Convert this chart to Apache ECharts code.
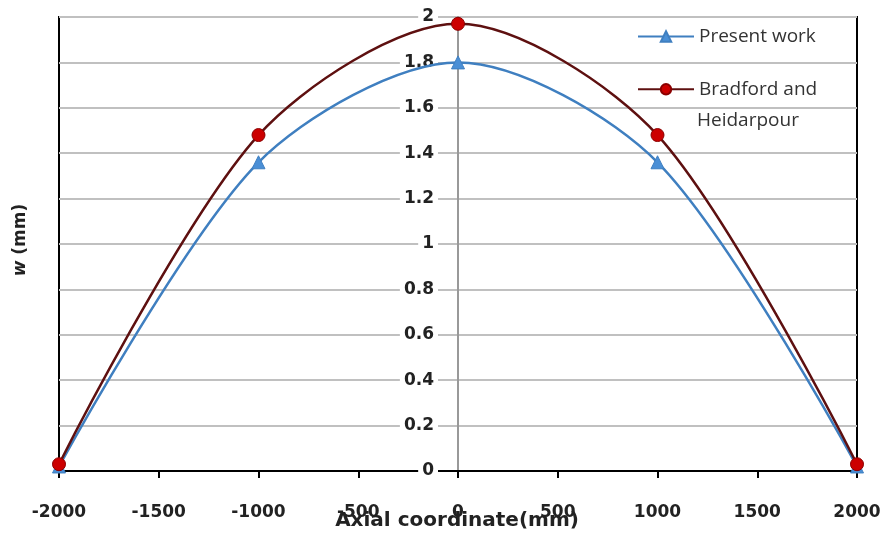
<!DOCTYPE html>
<html>
 <head>
  <title>Deflection along axial coordinate</title>
  <script src="https://cdn.jsdelivr.net/npm/echarts@6/dist/echarts.min.js"></script>
  <style>
    html, body, #container {
    width: 100%;
    height: 100%;
    margin: 0;
    padding: 0;
    background: #fff;
    }
  </style>
 </head>
  <body>
    <div id="container"></div>
    <script>
      // values
      var axialPos = [-2000, -1000, 0, 1000, 2000];
      var presentWork = [0.02, 1.36, 1.80, 1.36, 0.02];
      var bradford = [0.03, 1.48, 1.97, 1.48, 0.03];

      function pairs(xs, ys) {
        return xs.map(function (x, i) { return [x, ys[i]]; });
      }

      var chartDom = document.getElementById('container');
      var myChart = echarts.init(chartDom);

      var labelFont = 'DejaVu Sans';

      var option = {
        animation: false,
        grid: {
          left: 59, right: 26, top: 17, bottom: 62,
          outerBoundsMode: 'none',
          show: true, borderColor: '#000', borderWidth: 2
        },
        legend: {
          orient: 'vertical',
          left: 632, top: 16,
          itemWidth: 56, itemHeight: 13, itemGap: 22,
          textStyle: { fontFamily: 'Open Sans', fontSize: 19, color: '#333' },
          formatter: function (name) {
            return name === 'Bradford and Heidarpour' ? 'Bradford and' : name;
          },
          data: ['Present work', 'Bradford and Heidarpour']
        },
        xAxis: {
          type: 'value',
          min: -2000, max: 2000, interval: 500,
          axisLine: { onZero: false, lineStyle: { color: '#000', width: 2 } },
          axisTick: { show: true, length: 7, lineStyle: { color: '#000', width: 2 } },
          axisLabel: {
            margin: 24, fontFamily: labelFont, fontSize: 17, fontWeight: 'bold', color: '#222',
            formatter: function (v) { return String(v); }
          },
          splitLine: { show: false }
        },
        yAxis: {
          type: 'value',
          min: 0, max: 2, interval: 0.2,
          position: 'left',
          offset: -399,
          axisLine: { show: true, onZero: false, lineStyle: { color: '#999', width: 2 } },
          axisTick: { show: false },
          axisLabel: {
            margin: 20, fontFamily: labelFont, fontSize: 17, fontWeight: 'bold', color: '#222',
            backgroundColor: '#fff', padding: [0, 4]
          },
          splitLine: { lineStyle: { color: '#c0c0c0', width: 2 } }
        },
        graphic: [
          {
            type: 'text',
            x: 21, y: 240,
            rotation: Math.PI / 2,
            style: {
              text: '{i|w} (mm)',
              align: 'center', verticalAlign: 'middle',
              fontFamily: labelFont, fontSize: 17, fontWeight: 'bold', fill: '#222',
              rich: { i: { fontStyle: 'italic', fontFamily: labelFont, fontSize: 17, fontWeight: 'bold', color: '#222' } }
            }
          },
          {
            type: 'text',
            x: 457, y: 521,
            style: {
              text: 'Axial coordinate(mm)',
              align: 'center', verticalAlign: 'middle',
              fontFamily: labelFont, fontSize: 20, fontWeight: 'bold', fill: '#222'
            }
          },
          {
            type: 'text',
            x: 697, y: 121,
            style: {
              text: 'Heidarpour',
              verticalAlign: 'middle',
              fontFamily: 'Open Sans', fontSize: 19, fill: '#333'
            }
          }
        ],
        series: [
          {
            name: 'Present work',
            type: 'line',
            smooth: 0.3,
            data: pairs(axialPos, presentWork),
            symbol: 'triangle', symbolSize: 13,
            lineStyle: { color: '#3f7fc0', width: 2.5 },
            itemStyle: { color: '#4a8fd6', borderColor: '#3f7fc0', borderWidth: 1 },
            z: 2
          },
          {
            name: 'Bradford and Heidarpour',
            type: 'line',
            smooth: 0.3,
            data: pairs(axialPos, bradford),
            symbol: 'circle', symbolSize: 13,
            lineStyle: { color: '#5e1010', width: 2.5 },
            itemStyle: { color: '#cc0000', borderColor: '#8b0000', borderWidth: 1 },
            z: 3
          }
        ]
      };

      myChart.setOption(option);
    </script>
  </body>
</html>
